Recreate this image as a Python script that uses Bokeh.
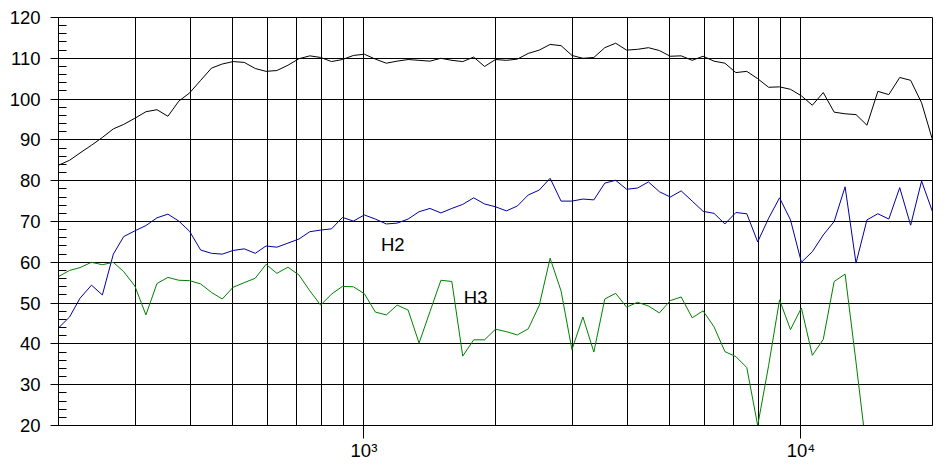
from bokeh.plotting import figure
from bokeh.models import FixedTicker, Label, Range1d
from bokeh.embed import file_html
from bokeh.resources import INLINE

# ---------------- data ----------------
freq = [200, 212, 224, 238, 252, 267, 282, 299, 317, 336,
        356, 377, 399, 423, 448, 474, 502, 532, 564, 597,
        632, 670, 710, 752, 796, 843, 893, 946, 1002, 1062,
        1125, 1191, 1262, 1337, 1416, 1500, 1589, 1683, 1783, 1888,
        2000, 2119, 2244, 2377, 2518, 2667, 2825, 2992, 3170, 3358,
        3557, 3767, 3991, 4227, 4477, 4743, 5024, 5321, 5637, 5971,
        6325, 6699, 7096, 7517, 7962, 8434, 8934, 9463, 10024, 10618,
        11247, 11913, 12619, 13367, 14159, 14998, 15887, 16828, 17825, 18881,
        20000]

fundamental = [83.8, 85.0, 86.8, 88.7, 90.6, 92.7, 93.8, 95.3, 96.9, 97.4,
               95.8, 99.5, 101.5, 104.6, 107.6, 108.6, 109.2, 109.0, 107.5, 106.8,
               107.0, 108.3, 109.9, 110.6, 110.2, 109.2, 109.7, 110.7, 111.0, 109.8,
               108.8, 109.3, 109.7, 109.5, 109.3, 110.0, 109.5, 109.2, 110.3, 108.0,
               109.7, 109.5, 109.8, 111.2, 112.0, 113.4, 113.1, 110.7, 110.0, 110.2,
               112.6, 113.7, 112.0, 112.2, 112.6, 111.9, 110.5, 110.6, 109.5, 110.5,
               109.3, 108.8, 106.5, 106.8, 105.0, 102.9, 103.0, 102.4, 100.8, 98.5,
               101.6, 96.8, 96.4, 96.2, 93.6, 101.9, 101.1, 105.3, 104.6, 99.1,
               90.0]

h2 = [43.9, 46.6, 51.2, 54.4, 52.0, 62.0, 66.3, 67.7, 69.0, 70.9,
      71.8, 70.1, 67.6, 63.0, 62.2, 62.0, 62.9, 63.3, 62.2, 64.0,
      63.7, 64.7, 65.7, 67.5, 67.9, 68.2, 71.0, 70.1, 71.6, 70.6,
      69.4, 69.6, 70.6, 72.4, 73.2, 72.1, 73.2, 74.2, 75.8, 74.3,
      73.6, 72.6, 73.8, 76.5, 77.7, 80.6, 75.0, 75.0, 75.5, 75.3,
      79.4, 80.1, 77.9, 78.2, 79.7, 77.3, 76.0, 77.5, 75.0, 72.5,
      72.0, 69.4, 72.2, 71.9, 65.0, 70.8, 75.8, 70.4, 60.0, 62.6,
      66.7, 70.0, 78.5, 59.8, 70.4, 71.9, 70.6, 78.3, 69.1, 79.9,
      72.4]

h3 = [56.5, 58.0, 58.7, 60.0, 59.4, 60.0, 57.7, 54.2, 47.1, 54.8,
      56.3, 55.6, 55.5, 54.7, 52.6, 51.0, 53.9, 55.0, 56.1, 59.5,
      57.3, 58.8, 56.9, 53.0, 49.5, 52.2, 54.1, 54.0, 52.3, 47.8,
      47.1, 49.5, 48.3, 40.2, 47.9, 55.6, 55.3, 37.0, 41.0, 41.0,
      43.6, 43.0, 42.2, 43.7, 49.4, 61.0, 53.0, 38.6, 46.6, 38.0,
      51.0, 52.4, 49.0, 50.2, 49.3, 47.6, 50.6, 51.5, 46.4, 48.1,
      44.2, 38.1, 36.9, 34.2, 20.0, 34.7, 50.8, 43.5, 48.8, 37.2,
      41.1, 55.3, 57.1, 35.5, 13.0]

x_major_ticks = [1000, 10000]
x_major_labels = ["10\u00b3", "10\u2074"]
x_minor_ticks = [300, 400, 500, 600, 700, 800, 900,
                 2000, 3000, 4000, 5000, 6000, 7000, 8000, 9000]
y_major_ticks = [20, 30, 40, 50, 60, 70, 80, 90, 100, 110, 120]
y_minor_ticks = list(range(20, 121, 2))

FONT = "Liberation Sans"

p = figure(width=942, height=463, x_axis_type="log",
           x_range=Range1d(200, 20000), y_range=Range1d(20, 120),
           output_backend="svg", toolbar_location=None, title=None,
           min_border_left=58, min_border_right=10,
           min_border_top=17, min_border_bottom=37)

p.background_fill_color = "white"
p.border_fill_color = "white"
p.outline_line_color = "black"
p.outline_line_width = 1
p.outline_line_alpha = 1.0

# x axis
p.xaxis.ticker = FixedTicker(ticks=x_major_ticks, minor_ticks=x_minor_ticks)
p.xaxis.major_label_overrides = {t: l for t, l in zip(x_major_ticks, x_major_labels)}
p.xaxis.major_tick_out = 13
p.xaxis.major_tick_in = 0
p.xaxis.minor_tick_out = 0
p.xaxis.minor_tick_in = 0
p.xaxis.major_label_standoff = 1

# y axis
p.yaxis.ticker = FixedTicker(ticks=y_major_ticks, minor_ticks=y_minor_ticks)
p.yaxis.major_tick_out = 8
p.yaxis.major_tick_in = 0
p.yaxis.minor_tick_in = 8
p.yaxis.minor_tick_out = 0
p.yaxis.major_label_standoff = 10

for ax in (p.xaxis, p.yaxis):
    ax.axis_line_color = "black"
    ax.major_tick_line_color = "black"
    ax.minor_tick_line_color = "black"
    ax.major_label_text_font = FONT
    ax.major_label_text_font_size = "18.5px"
    ax.major_label_text_color = "black"

p.xgrid.grid_line_color = "black"
p.xgrid.grid_line_alpha = 1.0
p.xgrid.minor_grid_line_color = "black"
p.xgrid.minor_grid_line_alpha = 1.0
p.ygrid.grid_line_color = "black"
p.ygrid.grid_line_alpha = 1.0
p.ygrid.minor_grid_line_color = None

p.line(freq, fundamental, line_color="black", line_width=1)
p.line(freq, h2, line_color="#0000a0", line_width=1)
p.line(freq[:len(h3)], h3, line_color="#008000", line_width=1)

p.add_layout(Label(x=1094, y=64.3, text="H2", text_font=FONT,
                   text_font_size="18.5px", text_color="black",
                   text_align="left", text_baseline="alphabetic"))
p.add_layout(Label(x=1693, y=51.3, text="H3", text_font=FONT,
                   text_font_size="18.5px", text_color="black",
                   text_align="left", text_baseline="alphabetic"))

open("out.html", "w").write(file_html(p, INLINE))
